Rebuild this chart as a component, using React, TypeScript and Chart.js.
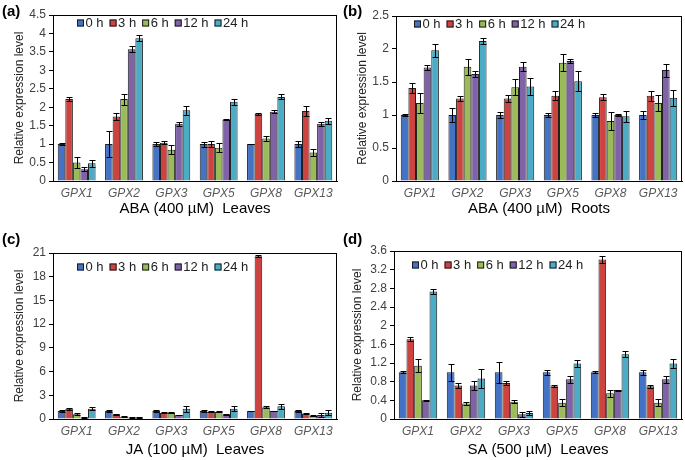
import React, { useEffect, useRef } from "react";
import { Chart, registerables } from "chart.js";

Chart.register(...registerables);

const FONT = "'Liberation Sans', Arial, sans-serif";

const genes = ["GPX1", "GPX2", "GPX3", "GPX5", "GPX8", "GPX13"];
const times = ["0 h", "3 h", "6 h", "12 h", "24 h"];
const seriesColors = ["#4472C4", "#CC4340", "#9BBB59", "#7F62A8", "#4BACC6"];

// (a) ABA leaves — rows: time points, columns: genes
const abaLeavesMean = [
  [1.0, 1.0, 1.0, 1.0, 1.0, 1.0],
  [2.22, 1.75, 1.04, 1.0, 1.82, 1.9],
  [0.5, 2.22, 0.85, 0.9, 1.15, 0.77],
  [0.32, 3.57, 1.55, 1.67, 1.88, 1.55],
  [0.48, 3.87, 1.92, 2.15, 2.28, 1.63],
];
const abaLeavesErr = [
  [0.03, 0.35, 0.05, 0.07, 0.01, 0.08],
  [0.05, 0.1, 0.04, 0.08, 0.03, 0.13],
  [0.15, 0.15, 0.12, 0.12, 0.07, 0.1],
  [0.05, 0.08, 0.05, 0.02, 0.04, 0.05],
  [0.1, 0.08, 0.12, 0.08, 0.07, 0.08],
];

// (b) ABA roots
const abaRootsMean = [
  [1.0, 1.0, 1.0, 1.0, 1.0, 1.0],
  [1.41, 1.25, 1.25, 1.29, 1.27, 1.29],
  [1.18, 1.73, 1.42, 1.79, 0.91, 1.18],
  [1.72, 1.62, 1.73, 1.82, 1.0, 1.68],
  [1.98, 2.12, 1.43, 1.51, 0.98, 1.26],
];
const abaRootsErr = [
  [0.01, 0.1, 0.04, 0.03, 0.03, 0.06],
  [0.07, 0.04, 0.06, 0.07, 0.05, 0.08],
  [0.15, 0.12, 0.12, 0.13, 0.14, 0.12],
  [0.04, 0.05, 0.07, 0.03, 0.01, 0.1],
  [0.1, 0.04, 0.13, 0.15, 0.08, 0.12],
];

// (c) JA leaves
const jaLeavesMean = [
  [1.0, 1.0, 1.0, 1.0, 1.0, 1.0],
  [1.3, 0.6, 0.8, 0.9, 20.6, 0.7],
  [0.6, 0.3, 0.8, 0.9, 1.5, 0.4],
  [0.2, 0.2, 0.5, 0.6, 1.0, 0.5],
  [1.3, 0.2, 1.3, 1.3, 1.6, 0.8],
];
const jaLeavesErr = [
  [0.1, 0.1, 0.1, 0.1, 0.05, 0.1],
  [0.1, 0.05, 0.05, 0.05, 0.1, 0.05],
  [0.1, 0.05, 0.05, 0.05, 0.1, 0.05],
  [0.05, 0.05, 0.05, 0.05, 0.05, 0.2],
  [0.2, 0.05, 0.4, 0.3, 0.3, 0.3],
];

// (d) SA leaves
const saLeavesMean = [
  [1.0, 1.0, 1.0, 1.0, 1.0, 1.0],
  [1.71, 0.72, 0.77, 0.7, 3.42, 0.7],
  [1.14, 0.33, 0.37, 0.35, 0.55, 0.35],
  [0.4, 0.72, 0.1, 0.85, 0.62, 0.85],
  [2.73, 0.87, 0.13, 1.19, 1.39, 1.19],
];
const saLeavesErr = [
  [0.02, 0.18, 0.23, 0.06, 0.02, 0.06],
  [0.04, 0.06, 0.04, 0.02, 0.07, 0.03],
  [0.14, 0.04, 0.03, 0.08, 0.07, 0.08],
  [0.01, 0.1, 0.06, 0.07, 0.01, 0.07],
  [0.05, 0.2, 0.05, 0.08, 0.06, 0.09],
];

type PanelProps = {
  left: number;
  top: number;
  width: number;
  height: number;
  plotLeft: number;
  plotTop: number;
  plotRight: number;
  plotBottom: number;
  means: number[][];
  errs: number[][];
  yMax: number;
  yStep: number;
  xTitle: string;
  xTitlePad: number;
  yTitlePad: number;
  legendDx: number;
  legendDy: number;
};

const errorBarPlugin = {
  id: "errorBars",
  afterDatasetsDraw(chart: any) {
    const ctx = chart.ctx;
    const yScale = chart.scales.y;
    ctx.save();
    ctx.strokeStyle = "#000";
    ctx.lineWidth = 1;
    chart.data.datasets.forEach((ds: any, i: number) => {
      const meta = chart.getDatasetMeta(i);
      meta.data.forEach((bar: any, j: number) => {
        const v = ds.data[j];
        const e = ds.errors[j];
        const x = Math.round(bar.x) + 0.5;
        const yT = Math.round(yScale.getPixelForValue(v + e)) + 0.5;
        const yB = Math.round(yScale.getPixelForValue(Math.max(0, v - e))) + 0.5;
        const hw = Math.min(3, bar.width / 2 - 0.5);
        ctx.beginPath();
        ctx.moveTo(x, yT);
        ctx.lineTo(x, yB);
        ctx.moveTo(x - hw, yT);
        ctx.lineTo(x + hw, yT);
        ctx.moveTo(x - hw, yB);
        ctx.lineTo(x + hw, yB);
        ctx.stroke();
      });
    });
    ctx.restore();
  },
};

const frameLegendPlugin = {
  id: "frameLegend",
  afterDraw(chart: any, _args: any, opts: any) {
    const ctx = chart.ctx;
    const a = chart.chartArea;
    ctx.save();
    ctx.strokeStyle = "#000";
    ctx.lineWidth = 1;
    ctx.strokeRect(Math.round(a.left) + 0.5, Math.round(a.top) + 0.5, Math.round(a.right - a.left) - 1, Math.round(a.bottom - a.top));
    // legend inside plot area
    ctx.font = "13px " + FONT;
    ctx.textBaseline = "middle";
    ctx.textAlign = "left";
    let x = a.left + opts.dx;
    const cy = a.top + opts.dy;
    chart.data.datasets.forEach((ds: any) => {
      ctx.fillStyle = ds.backgroundColor;
      ctx.fillRect(x, cy - 3.5, 7, 7);
      ctx.strokeStyle = "#1a1a1a";
      ctx.strokeRect(x + 0.5, cy - 3.5 + 0.5, 6, 6);
      x += 8.5;
      ctx.fillStyle = "#222";
      ctx.fillText(ds.label, x, cy + 0.5);
      x += ctx.measureText(ds.label).width + 6;
    });
    ctx.restore();
  },
};

function Panel(p: PanelProps) {
  const ref = useRef<HTMLCanvasElement | null>(null);
  useEffect(() => {
    if (!ref.current) return;
    const yWidth = p.plotLeft;
    const xHeight = p.height - p.plotBottom;
    const chart = new Chart(ref.current, {
      type: "bar",
      data: {
        labels: genes,
        datasets: times.map((t, i) => ({
          label: t,
          data: p.means[i],
          errors: p.errs[i],
          backgroundColor: seriesColors[i],
          borderColor: "#1f1f1f",
          borderWidth: 1,
          categoryPercentage: 0.8,
          barPercentage: 1.0,
        })) as any,
      },
      options: {
        responsive: false,
        animation: false,
        layout: {
          padding: { left: 0, top: p.plotTop, right: p.width - p.plotRight, bottom: 0 },
        },
        plugins: {
          legend: { display: false },
          tooltip: { enabled: false },
          frameLegend: { dx: p.legendDx, dy: p.legendDy },
        } as any,
        scales: {
          x: {
            grid: { display: false, drawTicks: false },
            border: { display: true, color: "#000" },
            ticks: {
              autoSkip: false,
              maxRotation: 0,
              padding: 5,
              color: "#595959",
              font: { family: FONT, size: 12, style: "italic" },
            },
            title: {
              display: true,
              text: p.xTitle,
              color: "#000",
              font: { family: FONT, size: 15 },
              padding: { top: 0, bottom: p.xTitlePad },
            },
            afterFit: (s: any) => {
              s.height = xHeight;
            },
          },
          y: {
            min: 0,
            max: p.yMax,
            grid: { drawOnChartArea: false, drawTicks: true, tickLength: 4, color: "#000" },
            border: { display: true, color: "#000" },
            ticks: {
              stepSize: p.yStep,
              padding: 3,
              color: "#404040",
              font: { family: FONT, size: 12 },
              callback: (v: any) => String(Math.round(Number(v) * 10) / 10),
            },
            title: {
              display: true,
              text: "Relative expression level",
              color: "#222",
              font: { family: FONT, size: 12 },
              padding: { top: p.yTitlePad, bottom: 0 },
            },
            afterFit: (s: any) => {
              s.width = yWidth;
            },
          },
        },
      },
      plugins: [errorBarPlugin, frameLegendPlugin],
    });
    return () => chart.destroy();
  }, []);
  return (
    <canvas
      ref={ref}
      width={p.width}
      height={p.height}
      style={{ position: "absolute", left: p.left, top: p.top, width: p.width, height: p.height }}
    />
  );
}

const labelStyle = (left: number, top: number): React.CSSProperties => ({
  position: "absolute",
  left,
  top,
  font: "bold 15px " + FONT,
  color: "#000",
  lineHeight: "15px",
});

export default function App() {
  return (
    <div style={{ position: "absolute", left: 0, top: 0, width: 685, height: 460, background: "#fff", overflow: "hidden" }}>
      <Panel left={0} top={0} width={340} height={230} plotLeft={53} plotTop={15} plotRight={337} plotBottom={181}
        means={abaLeavesMean} errs={abaLeavesErr} yMax={4.5} yStep={0.5} xTitle={"ABA (400 µM)  Leaves"}
        xTitlePad={12} yTitlePad={12} legendDx={24} legendDy={8} />
      <Panel left={340} top={0} width={345} height={230} plotLeft={56} plotTop={16} plotRight={342} plotBottom={181}
        means={abaRootsMean} errs={abaRootsErr} yMax={2.5} yStep={0.5} xTitle={"ABA (400 µM)  Roots"}
        xTitlePad={12} yTitlePad={15} legendDx={18} legendDy={8} />
      <Panel left={0} top={230} width={340} height={230} plotLeft={53} plotTop={23} plotRight={337} plotBottom={189}
        means={jaLeavesMean} errs={jaLeavesErr} yMax={21} yStep={3} xTitle={"JA (100 µM)  Leaves"}
        xTitlePad={1} yTitlePad={12} legendDx={24} legendDy={14} />
      <Panel left={340} top={230} width={345} height={230} plotLeft={54} plotTop={21} plotRight={342} plotBottom={189}
        means={saLeavesMean} errs={saLeavesErr} yMax={3.6} yStep={0.4} xTitle={"SA (500 µM)  Leaves"}
        xTitlePad={1} yTitlePad={10} legendDx={18} legendDy={14} />
      <div style={labelStyle(2, 3)}>(a)</div>
      <div style={labelStyle(343, 3)}>(b)</div>
      <div style={labelStyle(2, 231)}>(c)</div>
      <div style={labelStyle(343, 231)}>(d)</div>
    </div>
  );
}
